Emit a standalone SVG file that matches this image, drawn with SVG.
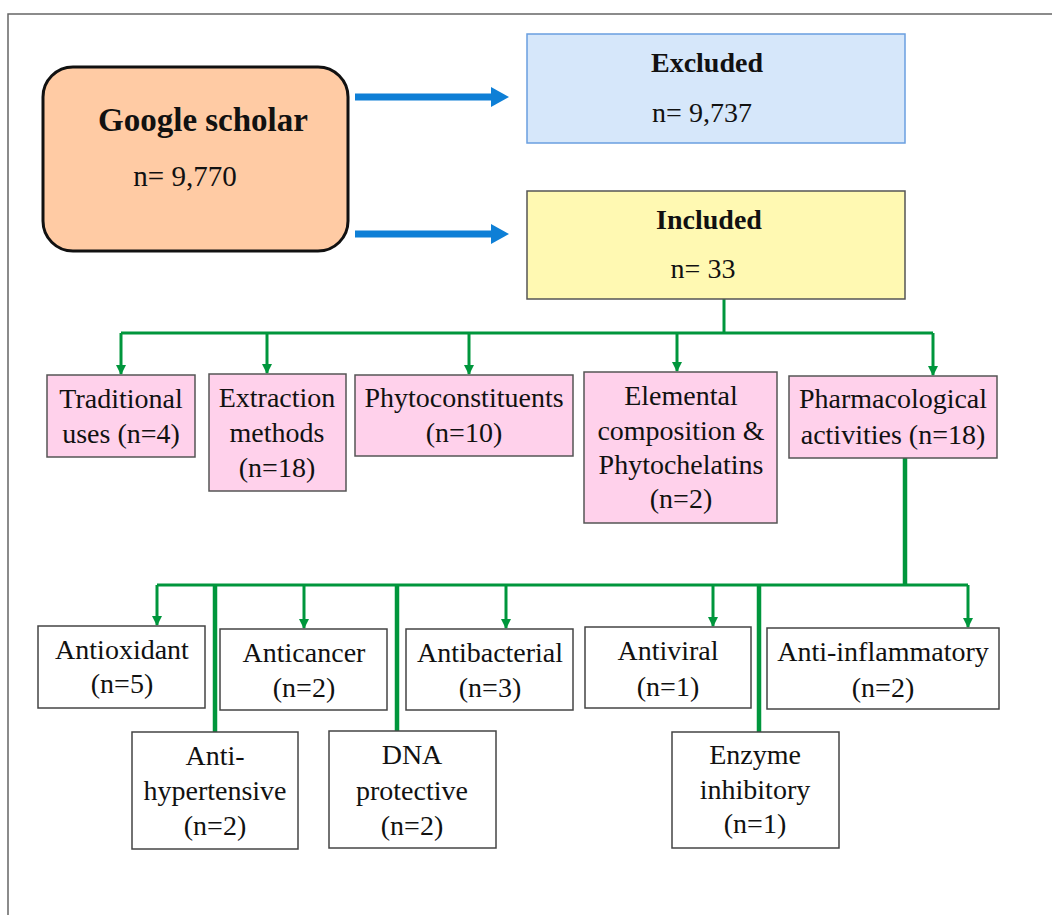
<svg xmlns="http://www.w3.org/2000/svg" width="1052" height="915" viewBox="0 0 1052 915">
<style>
  text { font-family: "Liberation Serif", "Times New Roman", serif; fill: #111; }
  .t { font-size: 28px; text-anchor: middle; }
  .b { font-weight: bold; }
  .pink { fill: #FFD1EB; stroke: #555; stroke-width: 1.5; }
  .white { fill: #fff; stroke: #444; stroke-width: 1.5; }
  .g { fill: none; stroke: #00963C; stroke-width: 3; }
  .gt { fill: none; stroke: #00963C; stroke-width: 4.5; }
  .blue { fill: none; stroke: #0E7FD6; stroke-width: 7; }
</style>
<defs>
  <marker id="ga" viewBox="0 0 10 10" markerWidth="10" markerHeight="10" refX="9" refY="5" orient="auto" markerUnits="userSpaceOnUse">
    <path d="M0,0 L10,5 L0,10 z" fill="#00963C"/>
  </marker>
  <marker id="ba" viewBox="0 0 18 20" markerWidth="18" markerHeight="20" refX="2" refY="10" orient="auto" markerUnits="userSpaceOnUse">
    <path d="M0,0 L18,10 L0,20 z" fill="#0E7FD6"/>
  </marker>
</defs>
<rect width="1052" height="915" fill="#fff"/>
<path d="M8,915 V14 H1052" fill="none" stroke="#666" stroke-width="1.5"/>

<g id="connectors">
  <path class="blue" d="M355,97 H493" marker-end="url(#ba)"/>
  <path class="blue" d="M355,234 H493" marker-end="url(#ba)"/>
  <path class="g" d="M724,299 V333"/>
  <path class="g" d="M121,333 H933"/>
  <path class="g" d="M121,333 V374" marker-end="url(#ga)"/>
  <path class="g" d="M267,333 V373" marker-end="url(#ga)"/>
  <path class="g" d="M469,333 V374" marker-end="url(#ga)"/>
  <path class="g" d="M677,333 V371" marker-end="url(#ga)"/>
  <path class="g" d="M933,333 V375" marker-end="url(#ga)"/>
  <path class="gt" d="M905,458 V585"/>
  <path class="g" d="M157,585 H968"/>
  <path class="g" d="M157,585 V625" marker-end="url(#ga)"/>
  <path class="g" d="M304,585 V628" marker-end="url(#ga)"/>
  <path class="g" d="M506,585 V628" marker-end="url(#ga)"/>
  <path class="g" d="M713,585 V626" marker-end="url(#ga)"/>
  <path class="g" d="M968,585 V627" marker-end="url(#ga)"/>
  <path class="gt" d="M215,585 V732"/>
  <path class="gt" d="M397,585 V731"/>
  <path class="gt" d="M759,585 V732"/>
</g>

<g id="google">
  <rect x="43" y="67" width="305" height="184" rx="30" ry="30" fill="#FFCBA4" stroke="#111" stroke-width="3"/>
  <text class="b" x="203" y="131" font-size="33" text-anchor="middle">Google scholar</text>
  <text x="185" y="186" font-size="29" text-anchor="middle">n= 9,770</text>
</g>
<g id="excluded">
  <rect x="527" y="34" width="378" height="109" fill="#D6E7FA" stroke="#6A9FE0" stroke-width="1.5"/>
  <text class="t b" x="707" y="72">Excluded</text>
  <text class="t" x="702" y="122">n= 9,737</text>
</g>
<g id="included">
  <rect x="527" y="191" width="378" height="108" fill="#FFF9B2" stroke="#555" stroke-width="1.5"/>
  <text class="t b" x="709" y="229">Included</text>
  <text class="t" x="703" y="278">n= 33</text>
</g>

<g id="traditional">
  <rect class="pink" x="47" y="375" width="148" height="82"/>
  <text class="t" x="121" y="408">Traditional</text>
  <text class="t" x="121" y="443">uses (n=4)</text>
</g>
<g id="extraction">
  <rect class="pink" x="209" y="374" width="137" height="117"/>
  <text class="t" x="277" y="407">Extraction</text>
  <text class="t" x="277" y="442">methods</text>
  <text class="t" x="277" y="477">(n=18)</text>
</g>
<g id="phyto">
  <rect class="pink" x="355" y="375" width="218" height="81"/>
  <text class="t" x="464" y="407">Phytoconstituents</text>
  <text class="t" x="464" y="442">(n=10)</text>
</g>
<g id="elemental">
  <rect class="pink" x="584" y="372" width="193" height="151"/>
  <text class="t" x="681" y="405">Elemental</text>
  <text class="t" x="681" y="440">composition &amp;</text>
  <text class="t" x="681" y="474">Phytochelatins</text>
  <text class="t" x="681" y="508">(n=2)</text>
</g>
<g id="pharm">
  <rect class="pink" x="789" y="376" width="208" height="82"/>
  <text class="t" x="893" y="408">Pharmacological</text>
  <text class="t" x="893" y="444">activities (n=18)</text>
</g>

<g id="antioxidant">
  <rect class="white" x="38" y="626" width="167" height="82"/>
  <text class="t" x="122" y="659">Antioxidant</text>
  <text class="t" x="122" y="693">(n=5)</text>
</g>
<g id="anticancer">
  <rect class="white" x="220" y="629" width="167" height="81"/>
  <text class="t" x="304" y="662">Anticancer</text>
  <text class="t" x="304" y="697">(n=2)</text>
</g>
<g id="antibacterial">
  <rect class="white" x="406" y="629" width="167" height="81"/>
  <text class="t" x="490" y="662">Antibacterial</text>
  <text class="t" x="490" y="697">(n=3)</text>
</g>
<g id="antiviral">
  <rect class="white" x="585" y="627" width="166" height="81"/>
  <text class="t" x="668" y="660">Antiviral</text>
  <text class="t" x="668" y="696">(n=1)</text>
</g>
<g id="antiinflammatory">
  <rect class="white" x="767" y="628" width="232" height="81"/>
  <text class="t" x="883" y="661">Anti-inflammatory</text>
  <text class="t" x="883" y="697">(n=2)</text>
</g>
<g id="antihypertensive">
  <rect class="white" x="132" y="732" width="166" height="117"/>
  <text class="t" x="215" y="765">Anti-</text>
  <text class="t" x="215" y="800">hypertensive</text>
  <text class="t" x="215" y="835">(n=2)</text>
</g>
<g id="dna">
  <rect class="white" x="329" y="731" width="167" height="117"/>
  <text class="t" x="412" y="764">DNA</text>
  <text class="t" x="412" y="800">protective</text>
  <text class="t" x="412" y="835">(n=2)</text>
</g>
<g id="enzyme">
  <rect class="white" x="672" y="732" width="167" height="116"/>
  <text class="t" x="755" y="764">Enzyme</text>
  <text class="t" x="755" y="799">inhibitory</text>
  <text class="t" x="755" y="833">(n=1)</text>
</g>
</svg>
